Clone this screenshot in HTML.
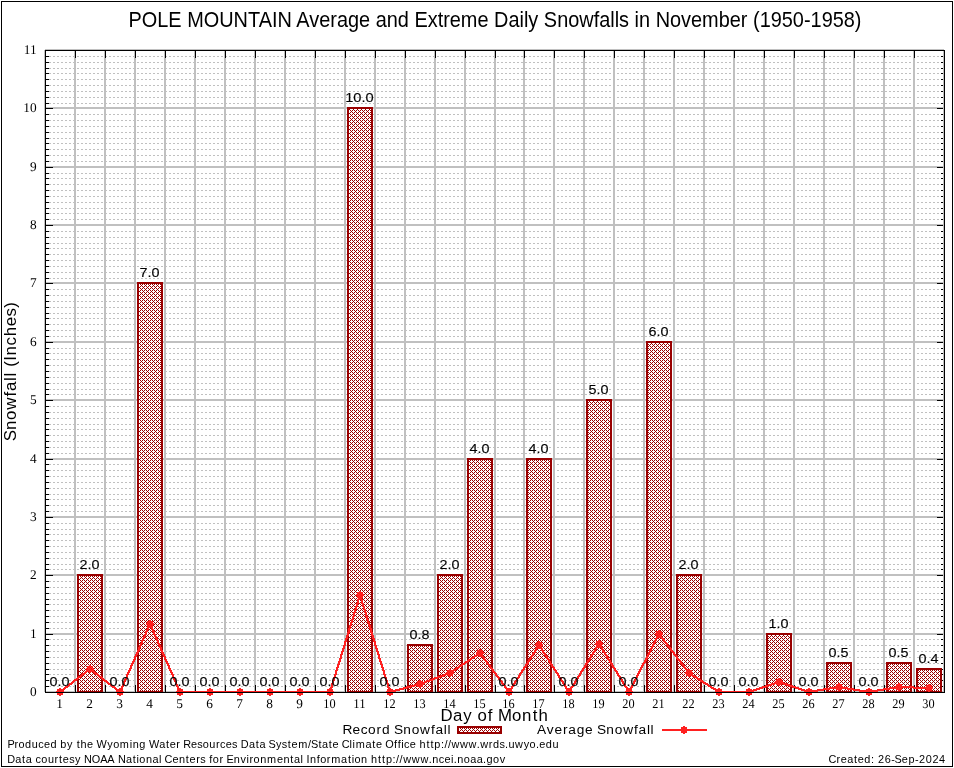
<!DOCTYPE html><html><head><meta charset="utf-8"><title>POLE MOUNTAIN Average and Extreme Daily Snowfalls in November</title><style>html,body{margin:0;padding:0;background:#fff;}svg{display:block;will-change:transform;}text{font-family:"Liberation Sans",sans-serif;}.sf{font-family:"Liberation Serif",serif;text-rendering:geometricPrecision;}</style></head><body>
<svg width="954" height="768" viewBox="0 0 954 768">
<defs><pattern id="h" patternUnits="userSpaceOnUse" x="0" y="0" width="4" height="4"><rect width="4" height="4" fill="#fff"/><path d="M0 0h1v1h-1zM2 0h1v1h-1zM1 1h1v1h-1zM0 2h1v1h-1zM2 2h1v1h-1zM3 3h1v1h-1z" fill="#990000"/></pattern><path id="pt" d="M-1 -4h2v1h2v2h1v2h-1v2h-2v1h-2v-1h-2v-2h-1v-2h1v-2h2z" fill="#ff2020"/></defs>
<rect width="954" height="768" fill="#fff"/>
<g shape-rendering="crispEdges">
<path d="M45 686.5H944M45 680.5H944M45 674.5H944M45 669.5H944M45 663.5H944M45 657.5H944M45 651.5H944M45 645.5H944M45 639.5H944M45 628.5H944M45 622.5H944M45 616.5H944M45 610.5H944M45 604.5H944M45 599.5H944M45 593.5H944M45 587.5H944M45 581.5H944M45 569.5H944M45 564.5H944M45 558.5H944M45 552.5H944M45 546.5H944M45 540.5H944M45 534.5H944M45 529.5H944M45 523.5H944M45 511.5H944M45 505.5H944M45 499.5H944M45 494.5H944M45 488.5H944M45 482.5H944M45 476.5H944M45 470.5H944M45 464.5H944M45 453.5H944M45 447.5H944M45 441.5H944M45 435.5H944M45 429.5H944M45 424.5H944M45 418.5H944M45 412.5H944M45 406.5H944M45 394.5H944M45 389.5H944M45 383.5H944M45 377.5H944M45 371.5H944M45 365.5H944M45 359.5H944M45 353.5H944M45 348.5H944M45 336.5H944M45 330.5H944M45 324.5H944M45 318.5H944M45 313.5H944M45 307.5H944M45 301.5H944M45 295.5H944M45 289.5H944M45 278.5H944M45 272.5H944M45 266.5H944M45 260.5H944M45 254.5H944M45 248.5H944M45 243.5H944M45 237.5H944M45 231.5H944M45 219.5H944M45 213.5H944M45 208.5H944M45 202.5H944M45 196.5H944M45 190.5H944M45 184.5H944M45 178.5H944M45 173.5H944M45 161.5H944M45 155.5H944M45 149.5H944M45 143.5H944M45 138.5H944M45 132.5H944M45 126.5H944M45 120.5H944M45 114.5H944M45 103.5H944M45 97.5H944M45 91.5H944M45 85.5H944M45 79.5H944M45 73.5H944M45 68.5H944M45 62.5H944M45 56.5H944" stroke="#c0c0c0" stroke-width="1" stroke-dasharray="2 2" fill="none"/>
<path d="M45 692H944M45 634H944M45 575H944M45 517H944M45 459H944M45 400H944M45 342H944M45 283H944M45 225H944M45 167H944M45 108H944M45 50H944M45 50V692M75 50V692M105 50V692M135 50V692M165 50V692M195 50V692M225 50V692M255 50V692M285 50V692M315 50V692M345 50V692M375 50V692M405 50V692M435 50V692M465 50V692M495 50V692M524 50V692M554 50V692M584 50V692M614 50V692M644 50V692M674 50V692M704 50V692M734 50V692M764 50V692M794 50V692M824 50V692M854 50V692M884 50V692M914 50V692M944 50V692" stroke="#c0c0c0" stroke-width="2" fill="none"/>
</g>
<g shape-rendering="crispEdges" fill="#000">
<path d="M45 692h8v1h-8zM945 692h-8v1h8zM45 686h4v1h-4zM945 686h-4v1h4zM45 680h4v1h-4zM945 680h-4v1h4zM45 674h4v1h-4zM945 674h-4v1h4zM45 669h4v1h-4zM945 669h-4v1h4zM45 663h4v1h-4zM945 663h-4v1h4zM45 657h4v1h-4zM945 657h-4v1h4zM45 651h4v1h-4zM945 651h-4v1h4zM45 645h4v1h-4zM945 645h-4v1h4zM45 639h4v1h-4zM945 639h-4v1h4zM45 634h8v1h-8zM945 634h-8v1h8zM45 628h4v1h-4zM945 628h-4v1h4zM45 622h4v1h-4zM945 622h-4v1h4zM45 616h4v1h-4zM945 616h-4v1h4zM45 610h4v1h-4zM945 610h-4v1h4zM45 604h4v1h-4zM945 604h-4v1h4zM45 599h4v1h-4zM945 599h-4v1h4zM45 593h4v1h-4zM945 593h-4v1h4zM45 587h4v1h-4zM945 587h-4v1h4zM45 581h4v1h-4zM945 581h-4v1h4zM45 575h8v1h-8zM945 575h-8v1h8zM45 569h4v1h-4zM945 569h-4v1h4zM45 564h4v1h-4zM945 564h-4v1h4zM45 558h4v1h-4zM945 558h-4v1h4zM45 552h4v1h-4zM945 552h-4v1h4zM45 546h4v1h-4zM945 546h-4v1h4zM45 540h4v1h-4zM945 540h-4v1h4zM45 534h4v1h-4zM945 534h-4v1h4zM45 529h4v1h-4zM945 529h-4v1h4zM45 523h4v1h-4zM945 523h-4v1h4zM45 517h8v1h-8zM945 517h-8v1h8zM45 511h4v1h-4zM945 511h-4v1h4zM45 505h4v1h-4zM945 505h-4v1h4zM45 499h4v1h-4zM945 499h-4v1h4zM45 494h4v1h-4zM945 494h-4v1h4zM45 488h4v1h-4zM945 488h-4v1h4zM45 482h4v1h-4zM945 482h-4v1h4zM45 476h4v1h-4zM945 476h-4v1h4zM45 470h4v1h-4zM945 470h-4v1h4zM45 464h4v1h-4zM945 464h-4v1h4zM45 459h8v1h-8zM945 459h-8v1h8zM45 453h4v1h-4zM945 453h-4v1h4zM45 447h4v1h-4zM945 447h-4v1h4zM45 441h4v1h-4zM945 441h-4v1h4zM45 435h4v1h-4zM945 435h-4v1h4zM45 429h4v1h-4zM945 429h-4v1h4zM45 424h4v1h-4zM945 424h-4v1h4zM45 418h4v1h-4zM945 418h-4v1h4zM45 412h4v1h-4zM945 412h-4v1h4zM45 406h4v1h-4zM945 406h-4v1h4zM45 400h8v1h-8zM945 400h-8v1h8zM45 394h4v1h-4zM945 394h-4v1h4zM45 389h4v1h-4zM945 389h-4v1h4zM45 383h4v1h-4zM945 383h-4v1h4zM45 377h4v1h-4zM945 377h-4v1h4zM45 371h4v1h-4zM945 371h-4v1h4zM45 365h4v1h-4zM945 365h-4v1h4zM45 359h4v1h-4zM945 359h-4v1h4zM45 353h4v1h-4zM945 353h-4v1h4zM45 348h4v1h-4zM945 348h-4v1h4zM45 342h8v1h-8zM945 342h-8v1h8zM45 336h4v1h-4zM945 336h-4v1h4zM45 330h4v1h-4zM945 330h-4v1h4zM45 324h4v1h-4zM945 324h-4v1h4zM45 318h4v1h-4zM945 318h-4v1h4zM45 313h4v1h-4zM945 313h-4v1h4zM45 307h4v1h-4zM945 307h-4v1h4zM45 301h4v1h-4zM945 301h-4v1h4zM45 295h4v1h-4zM945 295h-4v1h4zM45 289h4v1h-4zM945 289h-4v1h4zM45 283h8v1h-8zM945 283h-8v1h8zM45 278h4v1h-4zM945 278h-4v1h4zM45 272h4v1h-4zM945 272h-4v1h4zM45 266h4v1h-4zM945 266h-4v1h4zM45 260h4v1h-4zM945 260h-4v1h4zM45 254h4v1h-4zM945 254h-4v1h4zM45 248h4v1h-4zM945 248h-4v1h4zM45 243h4v1h-4zM945 243h-4v1h4zM45 237h4v1h-4zM945 237h-4v1h4zM45 231h4v1h-4zM945 231h-4v1h4zM45 225h8v1h-8zM945 225h-8v1h8zM45 219h4v1h-4zM945 219h-4v1h4zM45 213h4v1h-4zM945 213h-4v1h4zM45 208h4v1h-4zM945 208h-4v1h4zM45 202h4v1h-4zM945 202h-4v1h4zM45 196h4v1h-4zM945 196h-4v1h4zM45 190h4v1h-4zM945 190h-4v1h4zM45 184h4v1h-4zM945 184h-4v1h4zM45 178h4v1h-4zM945 178h-4v1h4zM45 173h4v1h-4zM945 173h-4v1h4zM45 167h8v1h-8zM945 167h-8v1h8zM45 161h4v1h-4zM945 161h-4v1h4zM45 155h4v1h-4zM945 155h-4v1h4zM45 149h4v1h-4zM945 149h-4v1h4zM45 143h4v1h-4zM945 143h-4v1h4zM45 138h4v1h-4zM945 138h-4v1h4zM45 132h4v1h-4zM945 132h-4v1h4zM45 126h4v1h-4zM945 126h-4v1h4zM45 120h4v1h-4zM945 120h-4v1h4zM45 114h4v1h-4zM945 114h-4v1h4zM45 108h8v1h-8zM945 108h-8v1h8zM45 103h4v1h-4zM945 103h-4v1h4zM45 97h4v1h-4zM945 97h-4v1h4zM45 91h4v1h-4zM945 91h-4v1h4zM45 85h4v1h-4zM945 85h-4v1h4zM45 79h4v1h-4zM945 79h-4v1h4zM45 73h4v1h-4zM945 73h-4v1h4zM45 68h4v1h-4zM945 68h-4v1h4zM45 62h4v1h-4zM945 62h-4v1h4zM45 56h4v1h-4zM945 56h-4v1h4zM45 50h8v1h-8zM945 50h-8v1h8zM75 50h1v8h-1zM75 693h1v-8h-1zM105 50h1v8h-1zM105 693h1v-8h-1zM135 50h1v8h-1zM135 693h1v-8h-1zM165 50h1v8h-1zM165 693h1v-8h-1zM195 50h1v8h-1zM195 693h1v-8h-1zM225 50h1v8h-1zM225 693h1v-8h-1zM255 50h1v8h-1zM255 693h1v-8h-1zM285 50h1v8h-1zM285 693h1v-8h-1zM315 50h1v8h-1zM315 693h1v-8h-1zM345 50h1v8h-1zM345 693h1v-8h-1zM375 50h1v8h-1zM375 693h1v-8h-1zM405 50h1v8h-1zM405 693h1v-8h-1zM435 50h1v8h-1zM435 693h1v-8h-1zM465 50h1v8h-1zM465 693h1v-8h-1zM495 50h1v8h-1zM495 693h1v-8h-1zM524 50h1v8h-1zM524 693h1v-8h-1zM554 50h1v8h-1zM554 693h1v-8h-1zM584 50h1v8h-1zM584 693h1v-8h-1zM614 50h1v8h-1zM614 693h1v-8h-1zM644 50h1v8h-1zM644 693h1v-8h-1zM674 50h1v8h-1zM674 693h1v-8h-1zM704 50h1v8h-1zM704 693h1v-8h-1zM734 50h1v8h-1zM734 693h1v-8h-1zM764 50h1v8h-1zM764 693h1v-8h-1zM794 50h1v8h-1zM794 693h1v-8h-1zM824 50h1v8h-1zM824 693h1v-8h-1zM854 50h1v8h-1zM854 693h1v-8h-1zM884 50h1v8h-1zM884 693h1v-8h-1zM914 50h1v8h-1zM914 693h1v-8h-1z"/>
</g>
<rect x="943" y="51" width="1" height="641" fill="#c0c0c0" shape-rendering="crispEdges"/>
<g shape-rendering="crispEdges">
<rect x="77" y="574" width="26" height="119" fill="#990000"/>
<rect x="79" y="576" width="22" height="115" fill="url(#h)"/>
<rect x="137" y="282" width="26" height="411" fill="#990000"/>
<rect x="139" y="284" width="22" height="407" fill="url(#h)"/>
<rect x="347" y="107" width="26" height="586" fill="#990000"/>
<rect x="349" y="109" width="22" height="582" fill="url(#h)"/>
<rect x="407" y="644" width="26" height="49" fill="#990000"/>
<rect x="409" y="646" width="22" height="45" fill="url(#h)"/>
<rect x="437" y="574" width="26" height="119" fill="#990000"/>
<rect x="439" y="576" width="22" height="115" fill="url(#h)"/>
<rect x="467" y="458" width="26" height="235" fill="#990000"/>
<rect x="469" y="460" width="22" height="231" fill="url(#h)"/>
<rect x="526" y="458" width="26" height="235" fill="#990000"/>
<rect x="528" y="460" width="22" height="231" fill="url(#h)"/>
<rect x="586" y="399" width="26" height="294" fill="#990000"/>
<rect x="588" y="401" width="22" height="290" fill="url(#h)"/>
<rect x="646" y="341" width="26" height="352" fill="#990000"/>
<rect x="648" y="343" width="22" height="348" fill="url(#h)"/>
<rect x="676" y="574" width="26" height="119" fill="#990000"/>
<rect x="678" y="576" width="22" height="115" fill="url(#h)"/>
<rect x="766" y="633" width="26" height="60" fill="#990000"/>
<rect x="768" y="635" width="22" height="56" fill="url(#h)"/>
<rect x="826" y="662" width="26" height="31" fill="#990000"/>
<rect x="828" y="664" width="22" height="27" fill="url(#h)"/>
<rect x="886" y="662" width="26" height="31" fill="#990000"/>
<rect x="888" y="664" width="22" height="27" fill="url(#h)"/>
<rect x="916" y="668" width="26" height="25" fill="#990000"/>
<rect x="918" y="670" width="22" height="21" fill="url(#h)"/>
</g>
<path d="M359 594h2v1h-2zM359 595h2v1h-2zM358 596h4v1h-4zM358 597h4v1h-4zM358 598h4v1h-4zM357 599h6v1h-6zM357 600h2v1h-2zM361 600h2v1h-2zM357 601h2v1h-2zM361 601h2v1h-2zM357 602h2v1h-2zM361 602h2v1h-2zM356 603h3v1h-3zM361 603h3v1h-3zM356 604h2v1h-2zM362 604h2v1h-2zM356 605h2v1h-2zM362 605h2v1h-2zM355 606h3v1h-3zM362 606h3v1h-3zM355 607h2v1h-2zM363 607h2v1h-2zM355 608h2v1h-2zM363 608h2v1h-2zM354 609h3v1h-3zM363 609h3v1h-3zM354 610h2v1h-2zM364 610h2v1h-2zM354 611h2v1h-2zM364 611h2v1h-2zM353 612h3v1h-3zM364 612h3v1h-3zM353 613h2v1h-2zM365 613h2v1h-2zM353 614h2v1h-2zM365 614h2v1h-2zM353 615h2v1h-2zM365 615h2v1h-2zM352 616h3v1h-3zM365 616h3v1h-3zM352 617h2v1h-2zM366 617h2v1h-2zM352 618h2v1h-2zM366 618h2v1h-2zM351 619h3v1h-3zM366 619h3v1h-3zM351 620h2v1h-2zM367 620h2v1h-2zM351 621h2v1h-2zM367 621h2v1h-2zM350 622h3v1h-3zM367 622h3v1h-3zM149 623h2v1h-2zM350 623h2v1h-2zM368 623h2v1h-2zM149 624h2v1h-2zM350 624h2v1h-2zM368 624h2v1h-2zM148 625h4v1h-4zM349 625h3v1h-3zM368 625h3v1h-3zM148 626h4v1h-4zM349 626h2v1h-2zM369 626h2v1h-2zM147 627h6v1h-6zM349 627h2v1h-2zM369 627h2v1h-2zM147 628h2v1h-2zM151 628h2v1h-2zM348 628h3v1h-3zM369 628h3v1h-3zM146 629h3v1h-3zM151 629h3v1h-3zM348 629h2v1h-2zM370 629h2v1h-2zM146 630h2v1h-2zM152 630h2v1h-2zM348 630h2v1h-2zM370 630h2v1h-2zM145 631h3v1h-3zM152 631h3v1h-3zM348 631h2v1h-2zM370 631h2v1h-2zM145 632h2v1h-2zM153 632h2v1h-2zM347 632h3v1h-3zM370 632h3v1h-3zM145 633h2v1h-2zM153 633h2v1h-2zM347 633h2v1h-2zM371 633h2v1h-2zM658 633h2v1h-2zM144 634h3v1h-3zM153 634h3v1h-3zM347 634h2v1h-2zM371 634h2v1h-2zM657 634h4v1h-4zM144 635h2v1h-2zM154 635h2v1h-2zM346 635h3v1h-3zM371 635h3v1h-3zM657 635h5v1h-5zM143 636h3v1h-3zM154 636h3v1h-3zM346 636h2v1h-2zM372 636h2v1h-2zM656 636h3v1h-3zM660 636h2v1h-2zM143 637h2v1h-2zM155 637h2v1h-2zM346 637h2v1h-2zM372 637h2v1h-2zM656 637h2v1h-2zM660 637h3v1h-3zM142 638h3v1h-3zM155 638h3v1h-3zM345 638h3v1h-3zM372 638h3v1h-3zM655 638h3v1h-3zM661 638h3v1h-3zM142 639h2v1h-2zM156 639h2v1h-2zM345 639h2v1h-2zM373 639h2v1h-2zM655 639h2v1h-2zM662 639h3v1h-3zM141 640h3v1h-3zM156 640h3v1h-3zM345 640h2v1h-2zM373 640h2v1h-2zM654 640h3v1h-3zM663 640h2v1h-2zM141 641h2v1h-2zM157 641h2v1h-2zM344 641h3v1h-3zM373 641h3v1h-3zM654 641h2v1h-2zM663 641h3v1h-3zM141 642h2v1h-2zM157 642h2v1h-2zM344 642h2v1h-2zM374 642h2v1h-2zM653 642h3v1h-3zM664 642h3v1h-3zM140 643h3v1h-3zM157 643h3v1h-3zM344 643h2v1h-2zM374 643h2v1h-2zM598 643h2v1h-2zM653 643h2v1h-2zM665 643h3v1h-3zM140 644h2v1h-2zM158 644h2v1h-2zM344 644h2v1h-2zM374 644h2v1h-2zM538 644h2v1h-2zM597 644h4v1h-4zM652 644h3v1h-3zM666 644h2v1h-2zM139 645h3v1h-3zM158 645h3v1h-3zM343 645h3v1h-3zM374 645h3v1h-3zM537 645h4v1h-4zM597 645h4v1h-4zM652 645h2v1h-2zM666 645h3v1h-3zM139 646h2v1h-2zM159 646h2v1h-2zM343 646h2v1h-2zM375 646h2v1h-2zM537 646h4v1h-4zM596 646h6v1h-6zM651 646h3v1h-3zM667 646h3v1h-3zM138 647h3v1h-3zM159 647h3v1h-3zM343 647h2v1h-2zM375 647h2v1h-2zM536 647h6v1h-6zM595 647h3v1h-3zM600 647h3v1h-3zM651 647h2v1h-2zM668 647h3v1h-3zM138 648h2v1h-2zM160 648h2v1h-2zM342 648h3v1h-3zM375 648h3v1h-3zM535 648h3v1h-3zM540 648h3v1h-3zM595 648h2v1h-2zM601 648h2v1h-2zM650 648h3v1h-3zM669 648h3v1h-3zM138 649h2v1h-2zM160 649h2v1h-2zM342 649h2v1h-2zM376 649h2v1h-2zM535 649h2v1h-2zM541 649h2v1h-2zM594 649h3v1h-3zM601 649h3v1h-3zM650 649h2v1h-2zM670 649h2v1h-2zM137 650h3v1h-3zM160 650h3v1h-3zM342 650h2v1h-2zM376 650h2v1h-2zM534 650h3v1h-3zM541 650h3v1h-3zM594 650h2v1h-2zM602 650h2v1h-2zM649 650h3v1h-3zM670 650h3v1h-3zM137 651h2v1h-2zM161 651h2v1h-2zM341 651h3v1h-3zM376 651h3v1h-3zM534 651h2v1h-2zM542 651h2v1h-2zM593 651h3v1h-3zM602 651h3v1h-3zM649 651h2v1h-2zM671 651h3v1h-3zM136 652h3v1h-3zM161 652h3v1h-3zM341 652h2v1h-2zM377 652h2v1h-2zM479 652h2v1h-2zM533 652h3v1h-3zM542 652h3v1h-3zM592 652h3v1h-3zM603 652h3v1h-3zM648 652h3v1h-3zM672 652h3v1h-3zM136 653h2v1h-2zM162 653h2v1h-2zM341 653h2v1h-2zM377 653h2v1h-2zM477 653h5v1h-5zM532 653h3v1h-3zM543 653h3v1h-3zM592 653h2v1h-2zM604 653h2v1h-2zM648 653h2v1h-2zM673 653h2v1h-2zM135 654h3v1h-3zM162 654h3v1h-3zM340 654h3v1h-3zM377 654h3v1h-3zM476 654h6v1h-6zM532 654h2v1h-2zM544 654h2v1h-2zM591 654h3v1h-3zM604 654h3v1h-3zM647 654h3v1h-3zM673 654h3v1h-3zM135 655h2v1h-2zM163 655h2v1h-2zM340 655h2v1h-2zM378 655h2v1h-2zM474 655h4v1h-4zM480 655h3v1h-3zM531 655h3v1h-3zM544 655h3v1h-3zM590 655h3v1h-3zM605 655h3v1h-3zM647 655h2v1h-2zM674 655h3v1h-3zM134 656h3v1h-3zM163 656h3v1h-3zM340 656h2v1h-2zM378 656h2v1h-2zM473 656h4v1h-4zM481 656h3v1h-3zM530 656h3v1h-3zM545 656h3v1h-3zM590 656h2v1h-2zM606 656h2v1h-2zM646 656h3v1h-3zM675 656h3v1h-3zM134 657h2v1h-2zM164 657h2v1h-2zM340 657h2v1h-2zM378 657h2v1h-2zM471 657h4v1h-4zM482 657h3v1h-3zM530 657h2v1h-2zM546 657h2v1h-2zM589 657h3v1h-3zM606 657h3v1h-3zM646 657h2v1h-2zM676 657h2v1h-2zM134 658h2v1h-2zM164 658h2v1h-2zM339 658h3v1h-3zM378 658h3v1h-3zM470 658h4v1h-4zM483 658h2v1h-2zM529 658h3v1h-3zM546 658h3v1h-3zM589 658h2v1h-2zM607 658h2v1h-2zM645 658h3v1h-3zM676 658h3v1h-3zM133 659h3v1h-3zM164 659h3v1h-3zM339 659h2v1h-2zM379 659h2v1h-2zM468 659h4v1h-4zM483 659h3v1h-3zM528 659h3v1h-3zM547 659h3v1h-3zM588 659h3v1h-3zM607 659h3v1h-3zM645 659h2v1h-2zM677 659h3v1h-3zM133 660h2v1h-2zM165 660h2v1h-2zM339 660h2v1h-2zM379 660h2v1h-2zM467 660h4v1h-4zM484 660h3v1h-3zM528 660h2v1h-2zM548 660h2v1h-2zM587 660h3v1h-3zM608 660h3v1h-3zM644 660h3v1h-3zM678 660h3v1h-3zM132 661h3v1h-3zM165 661h3v1h-3zM338 661h3v1h-3zM379 661h3v1h-3zM465 661h4v1h-4zM485 661h3v1h-3zM527 661h3v1h-3zM548 661h3v1h-3zM587 661h2v1h-2zM609 661h2v1h-2zM644 661h2v1h-2zM679 661h3v1h-3zM132 662h2v1h-2zM166 662h2v1h-2zM338 662h2v1h-2zM380 662h2v1h-2zM464 662h4v1h-4zM486 662h2v1h-2zM527 662h2v1h-2zM549 662h2v1h-2zM586 662h3v1h-3zM609 662h3v1h-3zM643 662h3v1h-3zM680 662h2v1h-2zM131 663h3v1h-3zM166 663h3v1h-3zM338 663h2v1h-2zM380 663h2v1h-2zM462 663h4v1h-4zM486 663h3v1h-3zM526 663h3v1h-3zM549 663h3v1h-3zM585 663h3v1h-3zM610 663h3v1h-3zM642 663h3v1h-3zM680 663h3v1h-3zM131 664h2v1h-2zM167 664h2v1h-2zM337 664h3v1h-3zM380 664h3v1h-3zM461 664h4v1h-4zM487 664h3v1h-3zM525 664h3v1h-3zM550 664h3v1h-3zM585 664h2v1h-2zM611 664h2v1h-2zM642 664h2v1h-2zM681 664h3v1h-3zM130 665h3v1h-3zM167 665h3v1h-3zM337 665h2v1h-2zM381 665h2v1h-2zM459 665h4v1h-4zM488 665h3v1h-3zM525 665h2v1h-2zM551 665h2v1h-2zM584 665h3v1h-3zM611 665h3v1h-3zM641 665h3v1h-3zM682 665h3v1h-3zM130 666h2v1h-2zM168 666h2v1h-2zM337 666h2v1h-2zM381 666h2v1h-2zM458 666h4v1h-4zM489 666h2v1h-2zM524 666h3v1h-3zM551 666h3v1h-3zM584 666h2v1h-2zM612 666h2v1h-2zM641 666h2v1h-2zM683 666h2v1h-2zM130 667h2v1h-2zM168 667h2v1h-2zM336 667h3v1h-3zM381 667h3v1h-3zM456 667h4v1h-4zM489 667h3v1h-3zM523 667h3v1h-3zM552 667h3v1h-3zM583 667h3v1h-3zM612 667h3v1h-3zM640 667h3v1h-3zM683 667h3v1h-3zM89 668h2v1h-2zM129 668h3v1h-3zM168 668h3v1h-3zM336 668h2v1h-2zM382 668h2v1h-2zM455 668h4v1h-4zM490 668h3v1h-3zM523 668h2v1h-2zM553 668h2v1h-2zM582 668h3v1h-3zM613 668h3v1h-3zM640 668h2v1h-2zM684 668h3v1h-3zM88 669h4v1h-4zM129 669h2v1h-2zM169 669h2v1h-2zM336 669h2v1h-2zM382 669h2v1h-2zM453 669h4v1h-4zM491 669h3v1h-3zM522 669h3v1h-3zM553 669h3v1h-3zM582 669h2v1h-2zM614 669h2v1h-2zM639 669h3v1h-3zM685 669h3v1h-3zM86 670h8v1h-8zM128 670h3v1h-3zM169 670h3v1h-3zM335 670h3v1h-3zM382 670h3v1h-3zM452 670h4v1h-4zM492 670h2v1h-2zM521 670h3v1h-3zM554 670h3v1h-3zM581 670h3v1h-3zM614 670h3v1h-3zM639 670h2v1h-2zM686 670h2v1h-2zM85 671h4v1h-4zM91 671h4v1h-4zM128 671h2v1h-2zM170 671h2v1h-2zM335 671h2v1h-2zM383 671h2v1h-2zM450 671h4v1h-4zM492 671h3v1h-3zM521 671h2v1h-2zM555 671h2v1h-2zM580 671h3v1h-3zM615 671h3v1h-3zM638 671h3v1h-3zM686 671h3v1h-3zM84 672h3v1h-3zM93 672h3v1h-3zM127 672h3v1h-3zM170 672h3v1h-3zM335 672h2v1h-2zM383 672h2v1h-2zM448 672h5v1h-5zM493 672h3v1h-3zM520 672h3v1h-3zM555 672h3v1h-3zM580 672h2v1h-2zM616 672h2v1h-2zM638 672h2v1h-2zM687 672h3v1h-3zM82 673h4v1h-4zM94 673h4v1h-4zM127 673h2v1h-2zM171 673h2v1h-2zM335 673h2v1h-2zM383 673h2v1h-2zM445 673h6v1h-6zM494 673h3v1h-3zM519 673h3v1h-3zM556 673h3v1h-3zM579 673h3v1h-3zM616 673h3v1h-3zM637 673h3v1h-3zM688 673h4v1h-4zM81 674h4v1h-4zM95 674h4v1h-4zM126 674h3v1h-3zM171 674h3v1h-3zM334 674h3v1h-3zM383 674h3v1h-3zM443 674h6v1h-6zM495 674h2v1h-2zM519 674h2v1h-2zM557 674h2v1h-2zM579 674h2v1h-2zM617 674h2v1h-2zM637 674h2v1h-2zM689 674h4v1h-4zM80 675h3v1h-3zM97 675h3v1h-3zM126 675h2v1h-2zM172 675h2v1h-2zM334 675h2v1h-2zM384 675h2v1h-2zM440 675h6v1h-6zM495 675h3v1h-3zM518 675h3v1h-3zM557 675h3v1h-3zM578 675h3v1h-3zM617 675h3v1h-3zM636 675h3v1h-3zM691 675h4v1h-4zM78 676h4v1h-4zM98 676h4v1h-4zM126 676h2v1h-2zM172 676h2v1h-2zM334 676h2v1h-2zM384 676h2v1h-2zM437 676h7v1h-7zM496 676h3v1h-3zM518 676h2v1h-2zM558 676h2v1h-2zM577 676h3v1h-3zM618 676h3v1h-3zM636 676h2v1h-2zM692 676h5v1h-5zM77 677h4v1h-4zM99 677h4v1h-4zM125 677h3v1h-3zM172 677h3v1h-3zM333 677h3v1h-3zM384 677h3v1h-3zM434 677h7v1h-7zM497 677h3v1h-3zM517 677h3v1h-3zM558 677h3v1h-3zM577 677h2v1h-2zM619 677h2v1h-2zM635 677h3v1h-3zM694 677h4v1h-4zM76 678h3v1h-3zM101 678h3v1h-3zM125 678h2v1h-2zM173 678h2v1h-2zM333 678h2v1h-2zM385 678h2v1h-2zM432 678h6v1h-6zM498 678h2v1h-2zM516 678h3v1h-3zM559 678h3v1h-3zM576 678h3v1h-3zM619 678h3v1h-3zM635 678h2v1h-2zM696 678h4v1h-4zM74 679h4v1h-4zM102 679h3v1h-3zM124 679h3v1h-3zM173 679h3v1h-3zM333 679h2v1h-2zM385 679h2v1h-2zM429 679h6v1h-6zM498 679h3v1h-3zM516 679h2v1h-2zM560 679h2v1h-2zM575 679h3v1h-3zM620 679h3v1h-3zM634 679h3v1h-3zM697 679h4v1h-4zM73 680h4v1h-4zM103 680h4v1h-4zM124 680h2v1h-2zM174 680h2v1h-2zM332 680h3v1h-3zM385 680h3v1h-3zM426 680h7v1h-7zM499 680h3v1h-3zM515 680h3v1h-3zM560 680h3v1h-3zM575 680h2v1h-2zM621 680h2v1h-2zM634 680h2v1h-2zM699 680h4v1h-4zM72 681h3v1h-3zM104 681h4v1h-4zM123 681h3v1h-3zM174 681h3v1h-3zM332 681h2v1h-2zM386 681h2v1h-2zM424 681h6v1h-6zM500 681h3v1h-3zM514 681h3v1h-3zM561 681h3v1h-3zM574 681h3v1h-3zM621 681h3v1h-3zM633 681h3v1h-3zM700 681h4v1h-4zM777 681h4v1h-4zM71 682h3v1h-3zM106 682h3v1h-3zM123 682h2v1h-2zM175 682h2v1h-2zM332 682h2v1h-2zM386 682h2v1h-2zM421 682h6v1h-6zM501 682h2v1h-2zM514 682h2v1h-2zM562 682h2v1h-2zM574 682h2v1h-2zM622 682h2v1h-2zM633 682h2v1h-2zM702 682h4v1h-4zM774 682h10v1h-10zM69 683h4v1h-4zM107 683h4v1h-4zM123 683h2v1h-2zM175 683h2v1h-2zM331 683h3v1h-3zM386 683h3v1h-3zM418 683h7v1h-7zM501 683h3v1h-3zM513 683h3v1h-3zM562 683h3v1h-3zM573 683h3v1h-3zM622 683h3v1h-3zM632 683h3v1h-3zM703 683h5v1h-5zM771 683h7v1h-7zM780 683h7v1h-7zM68 684h4v1h-4zM108 684h4v1h-4zM122 684h3v1h-3zM175 684h3v1h-3zM331 684h2v1h-2zM387 684h2v1h-2zM414 684h8v1h-8zM502 684h3v1h-3zM512 684h3v1h-3zM563 684h3v1h-3zM572 684h3v1h-3zM623 684h3v1h-3zM632 684h2v1h-2zM705 684h4v1h-4zM768 684h7v1h-7zM783 684h7v1h-7zM67 685h3v1h-3zM110 685h3v1h-3zM122 685h2v1h-2zM176 685h2v1h-2zM331 685h2v1h-2zM387 685h2v1h-2zM410 685h9v1h-9zM503 685h3v1h-3zM512 685h2v1h-2zM564 685h2v1h-2zM572 685h2v1h-2zM624 685h2v1h-2zM631 685h3v1h-3zM707 685h4v1h-4zM765 685h7v1h-7zM786 685h7v1h-7zM65 686h4v1h-4zM111 686h4v1h-4zM121 686h3v1h-3zM176 686h3v1h-3zM331 686h2v1h-2zM387 686h2v1h-2zM406 686h9v1h-9zM504 686h2v1h-2zM511 686h3v1h-3zM564 686h3v1h-3zM571 686h3v1h-3zM624 686h3v1h-3zM631 686h2v1h-2zM708 686h4v1h-4zM762 686h7v1h-7zM789 686h7v1h-7zM835 686h7v1h-7zM895 686h19v1h-19zM64 687h4v1h-4zM112 687h4v1h-4zM121 687h2v1h-2zM177 687h2v1h-2zM330 687h3v1h-3zM387 687h3v1h-3zM403 687h8v1h-8zM504 687h3v1h-3zM511 687h2v1h-2zM565 687h2v1h-2zM570 687h3v1h-3zM625 687h3v1h-3zM630 687h3v1h-3zM710 687h4v1h-4zM759 687h7v1h-7zM792 687h7v1h-7zM829 687h19v1h-19zM889 687h41v1h-41zM63 688h3v1h-3zM114 688h3v1h-3zM120 688h3v1h-3zM177 688h3v1h-3zM330 688h2v1h-2zM388 688h2v1h-2zM399 688h8v1h-8zM505 688h3v1h-3zM510 688h3v1h-3zM565 688h3v1h-3zM570 688h2v1h-2zM626 688h2v1h-2zM630 688h2v1h-2zM711 688h5v1h-5zM756 688h7v1h-7zM795 688h7v1h-7zM823 688h13v1h-13zM841 688h13v1h-13zM883 688h13v1h-13zM913 688h17v1h-17zM61 689h4v1h-4zM115 689h4v1h-4zM120 689h2v1h-2zM178 689h2v1h-2zM330 689h2v1h-2zM388 689h2v1h-2zM395 689h9v1h-9zM506 689h6v1h-6zM566 689h6v1h-6zM626 689h6v1h-6zM713 689h4v1h-4zM753 689h7v1h-7zM798 689h7v1h-7zM817 689h13v1h-13zM847 689h13v1h-13zM877 689h13v1h-13zM60 690h4v1h-4zM116 690h6v1h-6zM178 690h3v1h-3zM329 690h3v1h-3zM388 690h12v1h-12zM507 690h4v1h-4zM567 690h4v1h-4zM627 690h4v1h-4zM715 690h4v1h-4zM750 690h7v1h-7zM801 690h7v1h-7zM811 690h13v1h-13zM853 690h13v1h-13zM871 690h13v1h-13zM59 691h3v1h-3zM118 691h3v1h-3zM179 691h152v1h-152zM389 691h7v1h-7zM507 691h4v1h-4zM567 691h4v1h-4zM627 691h4v1h-4zM716 691h38v1h-38zM804 691h14v1h-14zM859 691h19v1h-19zM59 692h2v1h-2zM119 692h2v1h-2zM179 692h152v1h-152zM389 692h3v1h-3zM508 692h2v1h-2zM568 692h2v1h-2zM628 692h2v1h-2zM718 692h33v1h-33zM807 692h5v1h-5zM865 692h7v1h-7z" fill="#ff2020" shape-rendering="crispEdges"/>
<g shape-rendering="crispEdges">
<use href="#pt" x="60" y="692"/>
<use href="#pt" x="90" y="669"/>
<use href="#pt" x="120" y="692"/>
<use href="#pt" x="150" y="624"/>
<use href="#pt" x="180" y="692"/>
<use href="#pt" x="210" y="692"/>
<use href="#pt" x="240" y="692"/>
<use href="#pt" x="270" y="692"/>
<use href="#pt" x="300" y="692"/>
<use href="#pt" x="330" y="692"/>
<use href="#pt" x="360" y="595"/>
<use href="#pt" x="390" y="692"/>
<use href="#pt" x="420" y="684"/>
<use href="#pt" x="450" y="673"/>
<use href="#pt" x="480" y="653"/>
<use href="#pt" x="509" y="692"/>
<use href="#pt" x="539" y="645"/>
<use href="#pt" x="569" y="692"/>
<use href="#pt" x="599" y="644"/>
<use href="#pt" x="629" y="692"/>
<use href="#pt" x="659" y="634"/>
<use href="#pt" x="689" y="673"/>
<use href="#pt" x="719" y="692"/>
<use href="#pt" x="749" y="692"/>
<use href="#pt" x="779" y="682"/>
<use href="#pt" x="809" y="692"/>
<use href="#pt" x="839" y="687"/>
<use href="#pt" x="869" y="692"/>
<use href="#pt" x="899" y="687"/>
<use href="#pt" x="929" y="688"/>
</g>
<g font-size="12.5" text-anchor="middle" fill="#000" stroke="#000" stroke-width="0.12">
<text x="59.4" y="686" textLength="20.0" lengthAdjust="spacingAndGlyphs">0.0</text>
<text x="89.4" y="569" textLength="20.0" lengthAdjust="spacingAndGlyphs">2.0</text>
<text x="119.4" y="686" textLength="20.0" lengthAdjust="spacingAndGlyphs">0.0</text>
<text x="149.4" y="277" textLength="20.0" lengthAdjust="spacingAndGlyphs">7.0</text>
<text x="179.4" y="686" textLength="20.0" lengthAdjust="spacingAndGlyphs">0.0</text>
<text x="209.4" y="686" textLength="20.0" lengthAdjust="spacingAndGlyphs">0.0</text>
<text x="239.4" y="686" textLength="20.0" lengthAdjust="spacingAndGlyphs">0.0</text>
<text x="269.4" y="686" textLength="20.0" lengthAdjust="spacingAndGlyphs">0.0</text>
<text x="299.4" y="686" textLength="20.0" lengthAdjust="spacingAndGlyphs">0.0</text>
<text x="329.4" y="686" textLength="20.0" lengthAdjust="spacingAndGlyphs">0.0</text>
<text x="359.4" y="102" textLength="28.5" lengthAdjust="spacingAndGlyphs">10.0</text>
<text x="389.4" y="686" textLength="20.0" lengthAdjust="spacingAndGlyphs">0.0</text>
<text x="419.4" y="639" textLength="20.0" lengthAdjust="spacingAndGlyphs">0.8</text>
<text x="449.4" y="569" textLength="20.0" lengthAdjust="spacingAndGlyphs">2.0</text>
<text x="479.4" y="453" textLength="20.0" lengthAdjust="spacingAndGlyphs">4.0</text>
<text x="508.4" y="686" textLength="20.0" lengthAdjust="spacingAndGlyphs">0.0</text>
<text x="538.4" y="453" textLength="20.0" lengthAdjust="spacingAndGlyphs">4.0</text>
<text x="568.4" y="686" textLength="20.0" lengthAdjust="spacingAndGlyphs">0.0</text>
<text x="598.4" y="394" textLength="20.0" lengthAdjust="spacingAndGlyphs">5.0</text>
<text x="628.4" y="686" textLength="20.0" lengthAdjust="spacingAndGlyphs">0.0</text>
<text x="658.4" y="336" textLength="20.0" lengthAdjust="spacingAndGlyphs">6.0</text>
<text x="688.4" y="569" textLength="20.0" lengthAdjust="spacingAndGlyphs">2.0</text>
<text x="718.4" y="686" textLength="20.0" lengthAdjust="spacingAndGlyphs">0.0</text>
<text x="748.4" y="686" textLength="20.0" lengthAdjust="spacingAndGlyphs">0.0</text>
<text x="778.4" y="628" textLength="20.0" lengthAdjust="spacingAndGlyphs">1.0</text>
<text x="808.4" y="686" textLength="20.0" lengthAdjust="spacingAndGlyphs">0.0</text>
<text x="838.4" y="657" textLength="20.0" lengthAdjust="spacingAndGlyphs">0.5</text>
<text x="868.4" y="686" textLength="20.0" lengthAdjust="spacingAndGlyphs">0.0</text>
<text x="898.4" y="657" textLength="20.0" lengthAdjust="spacingAndGlyphs">0.5</text>
<text x="928.4" y="663" textLength="20.0" lengthAdjust="spacingAndGlyphs">0.4</text>
</g>
<g shape-rendering="crispEdges" fill="#000"><rect x="45" y="50" width="900" height="1"/><rect x="45" y="692" width="900" height="1"/><rect x="45" y="50" width="1" height="643"/><rect x="944" y="50" width="1" height="643"/></g>
<g class="sf" font-size="13.33" fill="#000">
<text class="sf" x="59.5" y="708" text-anchor="middle">1</text>
<text class="sf" x="89.5" y="708" text-anchor="middle">2</text>
<text class="sf" x="119.5" y="708" text-anchor="middle">3</text>
<text class="sf" x="149.5" y="708" text-anchor="middle">4</text>
<text class="sf" x="179.5" y="708" text-anchor="middle">5</text>
<text class="sf" x="209.5" y="708" text-anchor="middle">6</text>
<text class="sf" x="239.5" y="708" text-anchor="middle">7</text>
<text class="sf" x="269.5" y="708" text-anchor="middle">8</text>
<text class="sf" x="299.5" y="708" text-anchor="middle">9</text>
<text class="sf" x="329.5" y="708" text-anchor="middle" textLength="12.3" lengthAdjust="spacingAndGlyphs">10</text>
<text class="sf" x="359.5" y="708" text-anchor="middle" textLength="12.3" lengthAdjust="spacingAndGlyphs">11</text>
<text class="sf" x="389.5" y="708" text-anchor="middle" textLength="12.3" lengthAdjust="spacingAndGlyphs">12</text>
<text class="sf" x="419.5" y="708" text-anchor="middle" textLength="12.3" lengthAdjust="spacingAndGlyphs">13</text>
<text class="sf" x="449.5" y="708" text-anchor="middle" textLength="12.3" lengthAdjust="spacingAndGlyphs">14</text>
<text class="sf" x="479.5" y="708" text-anchor="middle" textLength="12.3" lengthAdjust="spacingAndGlyphs">15</text>
<text class="sf" x="508.5" y="708" text-anchor="middle" textLength="12.3" lengthAdjust="spacingAndGlyphs">16</text>
<text class="sf" x="538.5" y="708" text-anchor="middle" textLength="12.3" lengthAdjust="spacingAndGlyphs">17</text>
<text class="sf" x="568.5" y="708" text-anchor="middle" textLength="12.3" lengthAdjust="spacingAndGlyphs">18</text>
<text class="sf" x="598.5" y="708" text-anchor="middle" textLength="12.3" lengthAdjust="spacingAndGlyphs">19</text>
<text class="sf" x="628.5" y="708" text-anchor="middle" textLength="12.3" lengthAdjust="spacingAndGlyphs">20</text>
<text class="sf" x="658.5" y="708" text-anchor="middle" textLength="12.3" lengthAdjust="spacingAndGlyphs">21</text>
<text class="sf" x="688.5" y="708" text-anchor="middle" textLength="12.3" lengthAdjust="spacingAndGlyphs">22</text>
<text class="sf" x="718.5" y="708" text-anchor="middle" textLength="12.3" lengthAdjust="spacingAndGlyphs">23</text>
<text class="sf" x="748.5" y="708" text-anchor="middle" textLength="12.3" lengthAdjust="spacingAndGlyphs">24</text>
<text class="sf" x="778.5" y="708" text-anchor="middle" textLength="12.3" lengthAdjust="spacingAndGlyphs">25</text>
<text class="sf" x="808.5" y="708" text-anchor="middle" textLength="12.3" lengthAdjust="spacingAndGlyphs">26</text>
<text class="sf" x="838.5" y="708" text-anchor="middle" textLength="12.3" lengthAdjust="spacingAndGlyphs">27</text>
<text class="sf" x="868.5" y="708" text-anchor="middle" textLength="12.3" lengthAdjust="spacingAndGlyphs">28</text>
<text class="sf" x="898.5" y="708" text-anchor="middle" textLength="12.3" lengthAdjust="spacingAndGlyphs">29</text>
<text class="sf" x="928.5" y="708" text-anchor="middle" textLength="12.3" lengthAdjust="spacingAndGlyphs">30</text>
<text class="sf" x="36.6" y="696" text-anchor="end">0</text>
<text class="sf" x="36.6" y="638" text-anchor="end">1</text>
<text class="sf" x="36.6" y="579" text-anchor="end">2</text>
<text class="sf" x="36.6" y="521" text-anchor="end">3</text>
<text class="sf" x="36.6" y="463" text-anchor="end">4</text>
<text class="sf" x="36.6" y="404" text-anchor="end">5</text>
<text class="sf" x="36.6" y="346" text-anchor="end">6</text>
<text class="sf" x="36.6" y="287" text-anchor="end">7</text>
<text class="sf" x="36.6" y="229" text-anchor="end">8</text>
<text class="sf" x="36.6" y="171" text-anchor="end">9</text>
<text class="sf" x="36.6" y="112" text-anchor="end">10</text>
<text class="sf" x="36.6" y="54" text-anchor="end">11</text>
</g>
<text x="128.5" y="27" font-size="21.5" textLength="733" lengthAdjust="spacingAndGlyphs">POLE MOUNTAIN Average and Extreme Daily Snowfalls in November (1950-1958)</text>
<g transform="translate(16,440) rotate(-90)"><text x="-1.25 9.99 20.11 30.32 43.57 49.06 59.11 63.63 68.00 73.28 79.30 84.48 94.57 103.70 113.84 123.54 132.34" y="0" font-size="16.9">Snowfall (Inches)</text></g>
<text x="440.55 453.07 463.23 472.43 477.56 487.66 493.05 497.88 512.08 522.10 532.70 538.62" y="721" font-size="16.8">Day of Month</text>
<text x="342.60 352.51 360.71 368.12 376.50 381.99 390.29 394.01 403.28 411.63 420.08 430.97 435.53 443.79 447.51" y="734" font-size="13.7">Record Snowfall</text>
<g shape-rendering="crispEdges"><rect x="457" y="726" width="45" height="8" fill="#990000"/><rect x="459" y="728" width="41" height="4" fill="url(#h)"/></g>
<text x="537.12 546.83 554.55 562.98 568.33 576.72 585.12 593.29 597.02 606.30 614.67 623.14 634.04 638.62 646.89 650.62" y="734" font-size="13.7">Average Snowfall</text>
<g shape-rendering="crispEdges"><rect x="662" y="729" width="45" height="2" fill="#ff2020"/><use href="#pt" x="684" y="730"/></g>
<text x="7.38 14.49 18.60 25.08 31.68 38.14 43.90 50.40 56.88 60.33 67.02 72.96 76.66 80.48 86.97 93.35 96.52 107.17 113.13 119.86 129.71 132.63 139.23 145.71 148.88 159.34 166.08 169.80 176.36 180.46 183.31 191.04 197.26 202.85 209.32 215.97 220.07 225.82 232.04 237.62 240.86 248.96 255.71 259.42 265.77 268.61 275.91 281.70 287.66 291.38 298.14 308.00 310.92 318.39 322.10 328.85 332.57 338.95 341.81 349.62 352.51 355.69 365.46 372.21 375.93 382.30 385.33 393.98 397.64 401.21 404.00 409.76 416.13 419.57 426.43 430.50 434.33 440.90 444.40 447.90 451.48 460.00 468.51 476.85 480.34 488.86 493.09 499.42 504.99 508.43 515.08 523.63 529.58 535.93 539.27 545.78 552.38" y="748" font-size="10.9">Produced by the Wyoming Water Resources Data System/State Climate Office http://www.wrds.uwyo.edu</text>
<text x="7.17 15.33 22.11 25.86 32.25 35.58 41.37 47.91 54.60 59.11 62.87 69.14 74.98 80.95 84.11 91.86 100.17 107.35 114.72 117.88 125.92 132.70 136.52 139.35 145.89 152.42 158.91 161.72 164.62 172.42 178.97 185.86 189.62 196.22 200.20 205.81 209.32 212.85 219.44 223.56 226.42 233.66 240.38 246.45 249.45 253.60 260.14 267.05 276.90 283.45 290.34 294.09 300.58 303.39 306.60 309.95 316.63 320.17 326.75 331.29 341.12 347.91 351.72 354.56 361.09 367.60 371.06 377.95 382.06 385.93 392.54 396.07 399.60 403.23 411.81 420.39 428.77 432.23 438.74 444.54 451.05 453.86 457.33 463.85 470.28 476.70 483.10 486.57 493.10 499.73" y="763" font-size="10.9">Data courtesy NOAA National Centers for Environmental Information http://www.ncei.noaa.gov</text>
<text x="828.46 836.44 840.64 847.13 853.95 857.75 864.35 871.00 874.46 877.99 884.71 891.19 894.62 901.83 908.43 914.91 918.96 925.67 932.39 939.11" y="763" font-size="10.9">Created: 26-Sep-2024</text>
<rect x="1.5" y="1.5" width="951" height="765" fill="none" stroke="#000" stroke-width="1" shape-rendering="crispEdges"/>
</svg></body></html>
